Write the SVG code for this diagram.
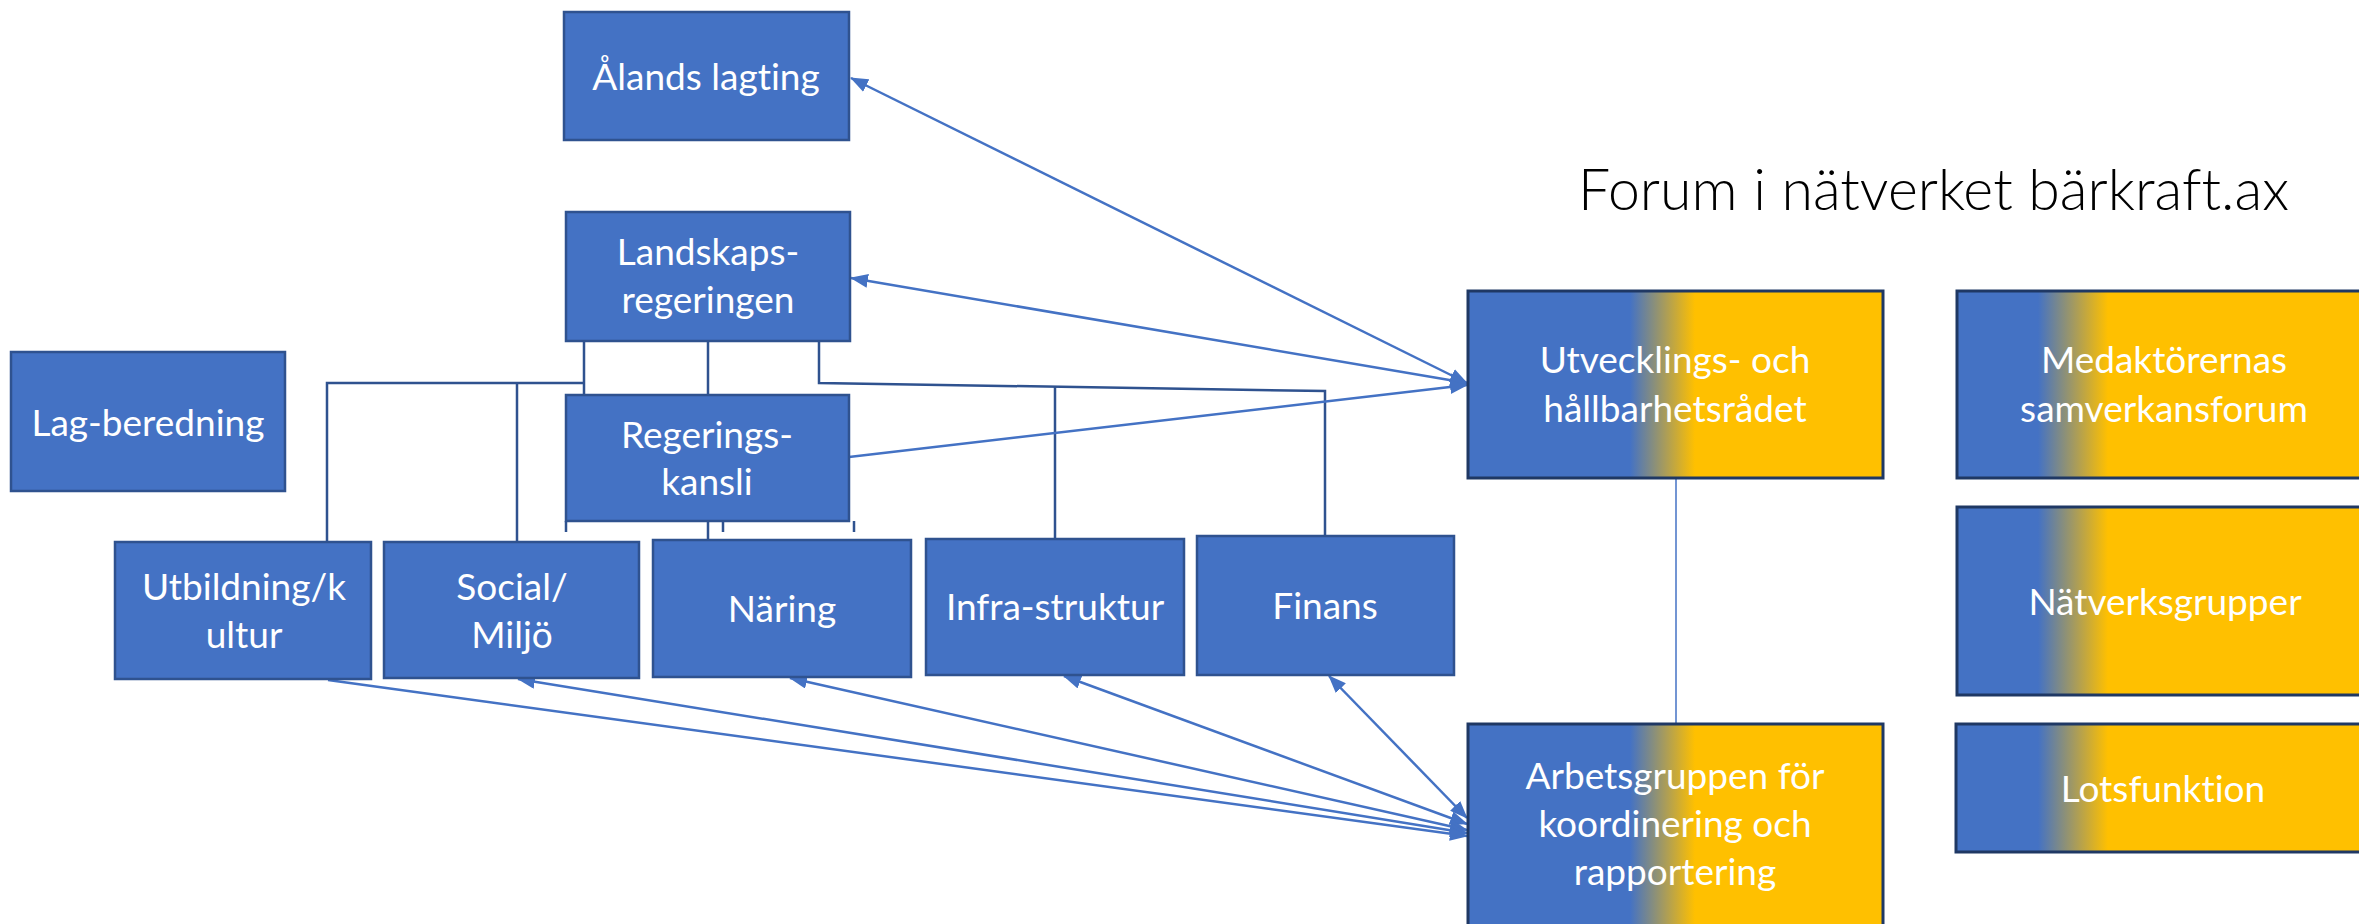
<svg xmlns="http://www.w3.org/2000/svg" width="2359" height="924" viewBox="0 0 2359 924">
<style>
.box{fill:#4472C4;stroke:#2F528F;stroke-width:2.5}
.gbox{stroke:#1F3864;stroke-width:3}
.t{font-family:Lato,"Liberation Sans",sans-serif;font-size:37px;fill:#FFFFFF;text-anchor:middle;font-variant-ligatures:none}
.title{font-family:Lato,"Liberation Sans",sans-serif;font-weight:300;font-size:58px;fill:#000000;font-variant-ligatures:none}
.arr{fill:none;stroke:#4472C4;stroke-width:2.5}
.tree{fill:none;stroke:#2F528F;stroke-width:2.5}
</style>
<defs>
<linearGradient id="gMid" gradientUnits="userSpaceOnUse" x1="1630" y1="0" x2="1695" y2="0">
<stop offset="0" stop-color="#4472C4"/><stop offset="1" stop-color="#FFC000"/>
</linearGradient>
<linearGradient id="gRight" gradientUnits="userSpaceOnUse" x1="2038" y1="0" x2="2108" y2="0">
<stop offset="0" stop-color="#4472C4"/><stop offset="1" stop-color="#FFC000"/>
</linearGradient>
<marker id="ah" markerUnits="userSpaceOnUse" viewBox="0 0 18 14" markerWidth="18" markerHeight="14" refX="17" refY="7" orient="auto-start-reverse">
<path d="M0,0 L18,7 L0,14 z" fill="#4472C4"/>
</marker>
</defs>

<text class="title" x="1578" y="210" textLength="711" lengthAdjust="spacingAndGlyphs">Forum i nätverket bärkraft.ax</text>

<g id="connectors">
<path class="tree" d="M584,341 V508 H708 V549"/>
<path class="tree" d="M327,548 V383 H584"/>
<path class="tree" d="M517,383 V548"/>
<path class="tree" d="M708,341 V395"/>
<path class="tree" d="M819,341 V383 L1325,391 V557"/>
<path class="tree" d="M1055,387 V553"/>
<path class="tree" d="M566,521 V532 M723,521 V532 M854,521 V532"/>
<line x1="1676" y1="478" x2="1676" y2="724" stroke="#4472C4" stroke-width="1.5"/>
<line class="arr" x1="851" y1="78" x2="1467" y2="383" marker-start="url(#ah)" marker-end="url(#ah)"/>
<line class="arr" x1="851" y1="278" x2="1467" y2="383" marker-start="url(#ah)" marker-end="url(#ah)"/>
<line class="arr" x1="849" y1="457" x2="1467" y2="385" marker-end="url(#ah)"/>
<line class="arr" x1="1329" y1="676" x2="1467" y2="818" marker-start="url(#ah)" marker-end="url(#ah)"/>
<line class="arr" x1="1064" y1="676" x2="1467" y2="824" marker-start="url(#ah)" marker-end="url(#ah)"/>
<line class="arr" x1="790" y1="678" x2="1467" y2="830" marker-start="url(#ah)" marker-end="url(#ah)"/>
<line class="arr" x1="518" y1="679" x2="1467" y2="833" marker-start="url(#ah)" marker-end="url(#ah)"/>
<line class="arr" x1="328" y1="680" x2="1467" y2="836" marker-end="url(#ah)"/>
</g>

<g id="alands-lagting">
<rect class="box" x="564" y="12" width="285" height="128"/>
<text class="t" x="706" y="90">Ålands lagting</text>
</g>
<g id="landskapsregeringen">
<rect class="box" x="566" y="212" width="284" height="129"/>
<text class="t" x="708" y="265">Landskaps-</text>
<text class="t" x="708" y="313">regeringen</text>
</g>
<g id="regeringskansli">
<rect class="box" x="566" y="395" width="283" height="126"/>
<text class="t" x="707" y="448">Regerings-</text>
<text class="t" x="707" y="495">kansli</text>
</g>
<g id="lag-beredning">
<rect class="box" x="11" y="352" width="274" height="139"/>
<text class="t" x="148" y="436">Lag-beredning</text>
</g>
<g id="utbildning">
<rect class="box" x="115" y="542" width="256" height="137"/>
<text class="t" x="244" y="600">Utbildning/k</text>
<text class="t" x="244" y="648">ultur</text>
</g>
<g id="social">
<rect class="box" x="384" y="542" width="255" height="136"/>
<text class="t" x="512" y="600">Social/</text>
<text class="t" x="512" y="648">Miljö</text>
</g>
<g id="naring">
<rect class="box" x="653" y="540" width="258" height="137"/>
<text class="t" x="782" y="622">Näring</text>
</g>
<g id="infrastruktur">
<rect class="box" x="926" y="539" width="258" height="136"/>
<text class="t" x="1055" y="620">Infra-struktur</text>
</g>
<g id="finans">
<rect class="box" x="1197" y="536" width="257" height="139"/>
<text class="t" x="1325" y="619">Finans</text>
</g>
<g id="utvecklingsradet">
<rect class="gbox" x="1468" y="291" width="415" height="187" fill="url(#gMid)"/>
<text class="t" x="1675" y="373">Utvecklings- och</text>
<text class="t" x="1675" y="422">hållbarhetsrådet</text>
</g>
<g id="arbetsgruppen">
<rect class="gbox" x="1468" y="724" width="415" height="210" fill="url(#gMid)"/>
<text class="t" x="1675" y="789">Arbetsgruppen för</text>
<text class="t" x="1675" y="837">koordinering och</text>
<text class="t" x="1675" y="885">rapportering</text>
</g>
<g id="medaktorernas">
<rect class="gbox" x="1957" y="291" width="415" height="187" fill="url(#gRight)"/>
<text class="t" x="2164" y="373">Medaktörernas</text>
<text class="t" x="2164" y="422">samverkansforum</text>
</g>
<g id="natverksgrupper">
<rect class="gbox" x="1957" y="507" width="415" height="188" fill="url(#gRight)"/>
<text class="t" x="2165" y="615">Nätverksgrupper</text>
</g>
<g id="lotsfunktion">
<rect class="gbox" x="1956" y="724" width="415" height="128" fill="url(#gRight)"/>
<text class="t" x="2163" y="802">Lotsfunktion</text>
</g>
</svg>
